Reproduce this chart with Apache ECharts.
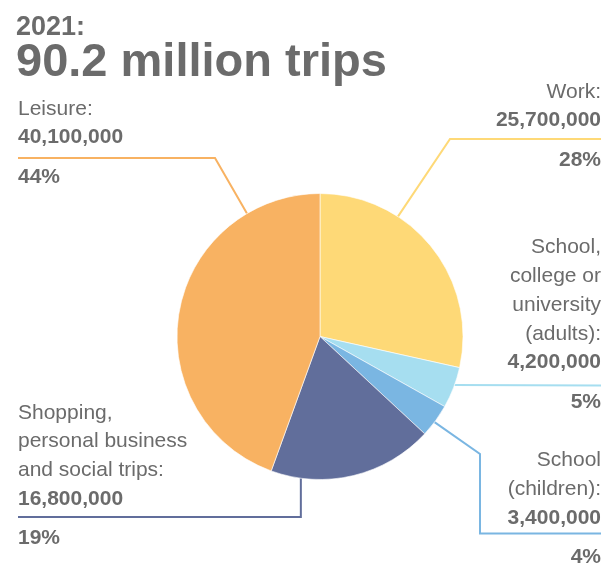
<!DOCTYPE html>
<html>
<head>
<meta charset="utf-8">
<script src="https://cdn.jsdelivr.net/npm/echarts@6/dist/echarts.min.js"></script>
<style>
  html, body { margin: 0; padding: 0; background: #ffffff; }
  #chart { width: 613px; height: 574px; }
</style>
</head>
<body>
<div id="chart"></div>
<script>
// Trips by purpose, 2021
const categories = ['Work', 'School, college or university (adults)', 'School (children)', 'Shopping, personal business and social trips', 'Leisure'];
const labelText = ['Work:', 'School,\ncollege or\nuniversity\n(adults):', 'School\n(children):', 'Shopping,\npersonal business\nand social trips:', 'Leisure:'];
const trips = [25700000, 4200000, 3400000, 16800000, 40100000];
const shares = ['28%', '5%', '4%', '19%', '44%'];
const colors = ['#FED977', '#A6DEF0', '#7AB6E2', '#616E9B', '#F8B262'];

const TEXT = '#6b6b6b';
const FONT = '"Liberation Sans", Arial, Helvetica, sans-serif';
const CX = 320, CY = 336.5, R = 143;
const LH = 28.8, GAP = 10.5;

// Leader-line routing: where each line leaves the pie (degrees clockwise from 12 o'clock),
// any bends, which side the text sits on, the top of its text block and the rule height.
const leaders = [
  { angle: 33,    bends: [[450, 139]],             side: 'right', textTop: 77.5, ruleY: 139 },
  { angle: 109.8, bends: [],                       side: 'right', textTop: 233,  ruleY: 385.5 },
  { angle: 126.8, bends: [[480, 454], [480, 533.5]], side: 'right', textTop: 446, ruleY: 533.5 },
  { angle: 187.7, bends: 'down',                   side: 'left',  textTop: 398.5, ruleY: 517 },
  { angle: 329.3, bends: [[215, 158]],             side: 'left',  textTop: 94.5, ruleY: 158 }
];
const LEFT_X = 18, RIGHT_X = 601;

function edgePoint(deg) {
  const a = deg * Math.PI / 180;
  return [CX + R * Math.sin(a), CY - R * Math.cos(a)];
}

const chart = echarts.init(document.getElementById('chart'), null, { renderer: 'canvas' });

const option = {
  backgroundColor: '#ffffff',
  animation: false,
  title: [
    { text: '2021:', left: 16, top: 14, padding: 0,
      textStyle: { fontFamily: FONT, fontSize: 27, fontWeight: 'bold', color: TEXT, lineHeight: 27 } },
    { text: '90.2 million trips', left: 16, top: 40, padding: 0,
      textStyle: { fontFamily: FONT, fontSize: 47, fontWeight: 'bold', color: TEXT, lineHeight: 47 } }
  ],
  series: [{
    type: 'pie',
    center: [CX, CY],
    radius: [0, R],
    startAngle: 90,
    clockwise: true,
    avoidLabelOverlap: false,
    emphasis: { disabled: true },
    itemStyle: { borderColor: '#ffffff', borderWidth: 0.6 },
    data: categories.map((c, i) => ({
      name: c,
      value: trips[i],
      itemStyle: { color: colors[i] },
      labelLine: { lineStyle: { color: colors[i], width: 2 } }
    })),
    label: {
      show: true,
      position: 'outside',
      color: TEXT,
      fontFamily: FONT,
      formatter: (p) => {
        const i = p.dataIndex;
        const nameLines = labelText[i].split('\n').map(s => '{n|' + s + '}');
        return nameLines.concat([
          '{v|' + trips[i].toLocaleString('en-US') + '}',
          '{g| }',
          '{p|' + shares[i] + '}'
        ]).join('\n');
      },
      rich: {
        n: { fontFamily: FONT, fontSize: 21, color: TEXT, lineHeight: LH },
        v: { fontFamily: FONT, fontSize: 21, fontWeight: 'bold', color: TEXT, lineHeight: LH },
        g: { fontSize: 4, lineHeight: GAP },
        p: { fontFamily: FONT, fontSize: 21, fontWeight: 'bold', color: TEXT, lineHeight: LH }
      }
    },
    labelLine: { show: true, smooth: false, length: 10, length2: 10 },
    labelLayout: (params) => {
      const i = params.dataIndex;
      const L = leaders[i];
      const start = edgePoint(L.angle);
      const endX = L.side === 'right' ? RIGHT_X : LEFT_X;
      let pts = [start];
      if (L.bends === 'down') {
        pts.push([start[0], L.ruleY]);
      } else {
        pts = pts.concat(L.bends);
      }
      pts.push([endX, L.ruleY]);
      return {
        x: endX,
        y: L.textTop,
        align: L.side === 'right' ? 'right' : 'left',
        verticalAlign: 'top',
        labelLinePoints: pts
      };
    }
  }]
};

chart.setOption(option);
</script>
</body>
</html>
